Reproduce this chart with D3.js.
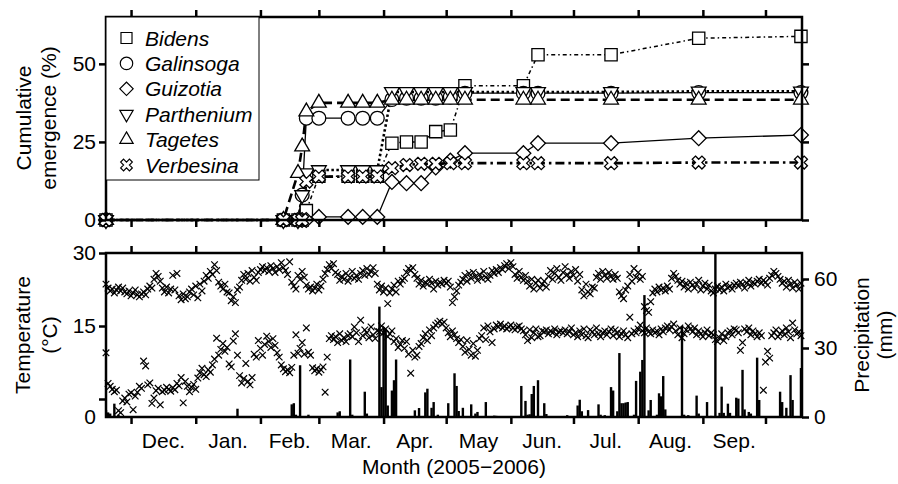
<!doctype html>
<html>
  <head>
    <meta charset="utf-8" />
    <title>Emergence and weather</title>
    <style>
      body {
        margin: 0;
        background: #fff;
      }
      svg {
        display: block;
      }
      text {
        font-family: "Liberation Sans", Arial, Helvetica, sans-serif;
        font-size: 21px;
        fill: #000;
      }
    </style>
  </head>
  <body>
    <svg id="chart" width="898" height="484"></svg>
    <script src="https://d3js.org/d3.v7.min.js"></script>
    <script>
      // ---- data ----
      const species = ["Bidens", "Galinsoga", "Guizotia", "Parthenium", "Tagetes", "Verbesina"];

      const obsDates = [
        "2005-11-19", "2006-02-12", "2006-02-19", "2006-02-21", "2006-02-23",
        "2006-03-01", "2006-03-15", "2006-03-22", "2006-03-29", "2006-04-05",
        "2006-04-12", "2006-04-19", "2006-04-26", "2006-05-03", "2006-05-10",
        "2006-06-07", "2006-06-14", "2006-07-19", "2006-08-30", "2006-10-18",
      ];
      const bidens = [0, 0, 0, 0, 3, 14, 14, 14, 14, 24.6, 25, 25, 28.3, 28.8, 43, 43, 52.9, 52.9, 58.2, 58.8];
      const galinsoga = [0, 0, 0, 8, 32.6, 32.6, 32.6, 32.6, 32.6, 38.6, 39, 39, 39, 39.4, 40.6, 40.6, 40.6, 40.6, 40.8, 40.8];
      const guizotia = [0, 0, 0, 0, 0, 1, 1, 1, 1, 12.2, 11.8, 11.8, 16.8, 19, 21.4, 21.4, 24.6, 24.6, 26.2, 27.2];
      const parthenium = [0, 0, 0, 8, 15, 16, 16, 16, 16, 41, 41, 41, 41, 41, 41, 41, 41, 41, 41.2, 41.2];
      const tagetes = [0, 0, 15, 23.5, 34.7, 37.5, 37.5, 37.5, 37.5, 38.5, 38.5, 38.5, 38.5, 38.5, 38.5, 38.5, 38.5, 38.5, 38.5, 38.5];
      const verbesina = [0, 0, 0, 0, 12.3, 13.9, 13.9, 13.9, 13.9, 16.6, 17.6, 18, 18, 18.2, 18.2, 18.2, 18.2, 18.2, 18.4, 18.4];

      // daily temperatures (deg C) from 19 Nov 2005
      const tempStart = "2005-11-19";
      const tmax = [
        23.6, 22.8, 22.2, 22.6, 21.8, 22.4, 23.0, 22.2, 22.8, 22.0,
        21.6, 22.2, 21.2, 21.8, 22.4, 21.4, 21.0, 21.6, 22.0, 21.4,
        22.6, 23.2, 22.8, 24.6, 25.8, 25.2, 24.2,
        22.8, 22.0, 23.0, 21.8, 22.6, 25.4, 22.4, 25.8,
        21.2, 20.4, 21.6, 20.6, 21.0, 22.0,
        22.6, 21.4, 23.2, 20.8, 23.6, 22.2,
        24.2, 25.4, 24.8, 26.2, 25.6, 27.6, 26.4, 24.0, 23.2,
        22.6, 23.6, 22.0, 21.8, 20.2, 21.0, 19.8, 22.4, 23.0,
        24.4, 25.6, 24.6, 25.8, 24.2, 26.4, 25.0, 24.4, 26.0,
        26.6, 27.2, 26.4, 27.0, 26.2, 27.4, 26.8, 26.0, 27.2, 26.6, 28.0, 27.0, 26.4,
        25.6, 28.2, 24.0, 23.2, 22.6, 25.4, 24.6, 26.2, 25.0,
        23.4, 22.6, 23.0, 22.2, 22.8, 23.6, 22.4, 23.2,
        24.6, 25.8, 26.6, 27.6, 26.8, 27.8, 26.0, 25.6,
        24.4, 25.2, 24.6, 25.8, 24.2, 25.0, 26.2, 24.8, 25.4, 24.6,
        25.8, 26.4, 25.4, 26.8, 25.6, 26.2, 27.0, 25.8,
        23.6, 22.4, 23.2, 22.0, 22.8, 19.6,
        21.8, 22.6, 23.4, 22.0, 24.2, 23.6, 24.4, 24.8,
        26.0, 26.8, 26.4, 27.0, 25.6, 24.8,
        23.6, 24.4, 23.2, 24.0, 23.6, 24.6, 23.8, 22.6, 24.2, 23.4, 24.0, 23.6, 24.4, 23.8, 24.2, 23.0,
        19.8, 21.0, 22.2, 23.4, 24.0,
        24.6, 25.4, 24.2, 25.8, 24.8, 26.0, 25.2, 24.4, 25.6, 24.8, 26.2, 25.0, 24.6, 25.4, 26.4, 25.8, 26.6, 26.0,
        27.0, 26.6, 27.4, 27.8, 26.8, 28.0, 27.2,
        25.6, 24.8, 26.2, 25.0, 24.4, 25.4, 24.2,
        23.2, 24.6, 22.6, 23.8, 24.4, 22.8, 23.6, 24.2, 23.0,
        25.2, 26.4, 24.6, 25.8, 26.8, 25.0, 24.4, 26.0, 27.2, 25.6, 24.8, 26.2, 25.4, 26.6, 24.2, 25.6,
        22.4, 21.2, 23.6, 22.0, 21.6, 23.0, 22.8,
        25.0, 25.8, 24.6, 26.2, 25.4, 24.8, 26.0, 25.2, 24.6, 25.6, 24.8,
        22.0, 21.2, 20.6, 22.4, 23.2,
        25.6, 24.2, 26.8, 25.0, 26.0, 24.6, 25.2,
        19.0, 18.2, 17.8, 20.0, 21.8,
        22.6, 22.0, 23.0, 22.4, 22.8, 22.2, 23.2, 22.6,
        24.8, 25.8, 25.2, 24.4,
        23.6, 24.2, 23.0, 23.8, 22.6, 24.0, 23.4, 22.8, 23.6, 24.4, 22.4, 23.2, 23.8, 22.6, 23.4, 22.2,
        21.8, 22.6, 23.2, 22.4, 23.0, 22.2, 23.6, 22.8, 23.2, 22.6, 23.4, 23.8,
        23.2, 24.0, 23.6, 22.8, 23.8, 24.4, 23.2, 24.0, 23.6, 24.2, 24.6, 23.8, 24.4, 24.0, 23.4, 24.8,
        25.4, 26.2, 25.8, 25.2,
        24.6, 23.8, 24.2, 23.0, 24.4, 23.6, 22.8, 24.0, 23.4, 22.6, 23.8,
      ];
      const tmin = [
        9.5, 3.2, 2.6, 2.0, 1.5, 1.8, -2.4, -2.8, -0.4, 0.2, -0.6, 1.0,
        1.3, -2.2, 0.6, 1.4, 2.6, 2.2, 7.8, 6.8, 2.9, 3.3, -0.9,
        0.2, 1.7, 2.2, -1.2, 1.5, 1.8, 2.4, 2.0, 1.6, 2.3, 1.9,
        3.2, 2.7, 4.4, -0.8, 3.6, 2.6, 1.5, 2.4, 3.0,
        2.0, 4.3, 5.4, 6.3, 5.0, 4.6, 6.0, 5.5, 7.0, 8.2, 12.5,
        9.0, 10.2, 11.4, 9.8, 10.6, 7.2, 6.6, 11.9, 13.4, 9.0,
        4.8, 3.3, 4.2, 7.3, 3.6, 2.9, 4.4, 9.2, 8.6, 12.0,
        10.4, 9.0, 11.2, 12.9, 11.8, 10.6, 12.4, 11.0, 9.5,
        8.6, 7.0, 6.2, 5.6, 6.0, 5.4, 6.5, 9.0,
        13.2, 9.4, 10.4, 11.6, 9.2, 14.6,
        9.6, 9.0, 6.4, 5.8, 6.2, 5.5, 6.0, 6.6,
        1.4, 8.6,
        12.4, 13.0, 12.2, 12.8, 11.6, 13.4, 12.0, 12.6, 11.8, 13.0,
        13.4, 12.8, 14.8, 13.6, 11.8, 16.2,
        13.0, 14.2, 13.6, 12.6, 14.8, 13.2, 12.4, 14.0, 13.8, 15.0,
        13.6, 14.4, 12.8, 13.4, 14.0, 11.8, 12.4, 10.6, 11.2, 12.0,
        10.4, 11.8, 9.2, 5.3, 10.0, 8.6, 9.0, 10.8,
        11.4, 12.6, 13.4, 12.0, 14.2, 13.0, 14.6, 15.2,
        15.6, 16.0, 15.4, 15.8, 14.6,
        13.6, 12.8, 14.0, 13.2, 12.4, 11.6, 12.2,
        10.8, 9.6, 12.0, 10.2, 9.0, 11.4, 8.8, 10.0, 12.4,
        13.0, 14.6, 12.2, 15.0, 13.8, 11.6, 14.4,
        15.2, 14.8, 15.4, 14.6, 15.0, 14.4, 14.8, 15.2, 14.6, 14.2, 14.8, 15.0, 14.4, 14.0,
        13.2, 12.0, 14.2, 12.6, 13.6, 14.4, 12.8, 13.0, 14.0,
        13.8, 14.2, 13.4, 14.0, 13.6, 14.4, 13.2, 13.8, 14.0, 13.6, 14.2, 13.4, 13.8, 14.6, 13.2,
        13.6, 12.8, 14.0, 13.2, 14.4, 13.0, 12.6, 14.2, 13.8, 13.2, 14.6, 13.4, 12.8, 13.6, 14.0, 13.2,
        13.8, 14.4, 13.0, 14.2, 13.6, 12.8, 13.4, 14.0, 13.2, 12.6,
        16.8,
        13.4, 14.0, 13.6, 14.4, 15.2, 14.0, 13.6,
        14.6, 13.8, 13.4, 14.2, 13.6, 14.0, 13.2, 14.4, 13.8, 14.6, 15.0, 14.2,
        14.8, 15.4, 14.0, 13.2, 14.6, 12.6, 13.4, 14.2, 15.0, 14.4, 13.8, 14.6, 13.2, 14.0, 13.4, 12.8, 13.6, 14.2, 13.0, 13.6,
        13.2, 12.2, 11.8, 12.6, 13.4, 12.0, 12.8, 13.6, 14.0, 13.2, 14.4,
        14.2, 13.6, 10.0, 11.6, 14.4,
        13.8, 14.6, 13.2, 14.0, 13.4, 12.8, 13.6, 13.0,
        1.8,
        7.6, 9.8, 8.4, 13.0,
        13.6, 14.2, 12.8, 13.4, 14.0, 13.2, 14.6, 13.8, 12.6, 15.6, 14.2, 13.4, 13.8, 13.0,
      ];

      // daily precipitation (mm), only rainy days
      const rainDates = [
        "2005-11-19", "2005-11-20", "2005-11-21", "2005-11-23", "2005-11-25", "2006-01-21",
        "2006-02-16", "2006-02-17", "2006-02-18", "2006-02-20", "2006-02-24",
        "2006-03-10", "2006-03-11", "2006-03-16", "2006-03-17", "2006-03-23", "2006-03-24",
        "2006-03-30", "2006-03-31", "2006-04-01", "2006-04-02", "2006-04-03", "2006-04-05",
        "2006-04-06", "2006-04-07", "2006-04-16", "2006-04-18", "2006-04-21", "2006-04-22",
        "2006-04-24", "2006-04-25", "2006-04-27", "2006-05-02", "2006-05-05", "2006-05-06",
        "2006-05-07", "2006-05-09", "2006-05-13", "2006-05-15", "2006-05-16", "2006-05-20",
        "2006-05-24", "2006-05-25", "2006-06-06", "2006-06-08", "2006-06-09", "2006-06-10",
        "2006-06-11", "2006-06-12", "2006-06-14", "2006-06-17", "2006-06-18", "2006-06-28",
        "2006-07-03", "2006-07-04", "2006-07-05", "2006-07-08", "2006-07-13", "2006-07-14",
        "2006-07-16", "2006-07-19", "2006-07-20", "2006-07-22", "2006-07-23", "2006-07-24",
        "2006-07-25", "2006-07-26", "2006-07-27", "2006-07-30", "2006-07-31", "2006-08-02",
        "2006-08-03", "2006-08-04", "2006-08-06", "2006-08-07", "2006-08-10", "2006-08-11",
        "2006-08-12", "2006-08-13", "2006-08-14", "2006-08-22", "2006-08-23", "2006-08-25",
        "2006-08-29", "2006-08-30", "2006-09-03", "2006-09-05", "2006-09-07", "2006-09-09",
        "2006-09-10", "2006-09-11", "2006-09-13", "2006-09-14", "2006-09-17", "2006-09-18",
        "2006-09-20", "2006-09-21", "2006-09-23", "2006-09-24", "2006-09-27", "2006-09-28",
        "2006-10-08", "2006-10-09", "2006-10-11", "2006-10-13", "2006-10-14", "2006-10-18",
      ];
      const rainMm = [
        3, 2, 1.5, 5.8, 1, 3.6,
        5.5, 6, 1, 22.5, 1,
        2, 2.5, 25, 1, 11, 1.5,
        48, 13, 39, 38, 5, 11.5,
        16, 25, 2.9, 3.9, 10.7, 12.3,
        4, 6.5, 1, 6, 19, 13.5,
        2.6, 4, 5.5, 1.5, 2.2, 6.5,
        0.6, 0.5, 13.5, 7, 1, 1.2,
        10, 13.5, 16, 6, 1.3, 0.8,
        5, 7.5, 2.5, 3, 5.5, 1,
        0.8, 13, 11.5, 2.5, 27.8, 6,
        6, 6.3, 6.5, 1, 15.7, 19.7,
        24.8, 53, 2.9, 7.4, 1, 10.3,
        9, 17.8, 3.3, 39.6, 1, 0.8,
        9.3, 1.5, 6.5, 0.5, 78, 1.8,
        13.2, 1.8, 5.8, 1.8, 8.4, 8,
        20.5, 3.3, 2.2, 1.5, 25.8, 7.4,
        11, 6.5, 4, 18.2, 7.4, 21.3,
      ];

      const monthLabels = ["Dec.", "Jan.", "Feb.", "Mar.", "Apr.", "May", "Jun.", "Jul.", "Aug.", "Sep."];
      const emergenceTicks = [0, 25, 50];
      const tempTicks = [0, 15, 30];
      const rainTicks = [0, 30, 60];

      // ---- layout ----
      const parse = d3.timeParse("%Y-%m-%d");
      const svg = d3.select("#chart");
      const left = 106, right = 802;
      const top1 = 17, bot1 = 220;
      const top2 = 253, bot2 = 417;
      const tick = 7;

      const x = d3
        .scaleTime()
        .domain([parse("2005-11-19"), new Date(2006, 9, 18, 12)])
        .range([left, right]);
      const yEm = d3.scaleLinear().domain([0, 65]).range([bot1, top1]);
      const yTemp = d3.scaleLinear().domain([-3.7, 30]).range([bot2, top2]);
      const yRain = d3.scaleLinear().domain([0, 71.3]).range([bot2, top2]);

      const monthStarts = d3.timeMonth.range(new Date(2005, 11, 1), new Date(2006, 9, 2));

      // styling of emergence series
      const series = [
        { name: "Bidens", values: bidens, shape: "square", width: 1.5, dash: "4,3,1.5,3" },
        { name: "Galinsoga", values: galinsoga, shape: "circle", width: 1.3, dash: null },
        { name: "Guizotia", values: guizotia, shape: "diamond", width: 1.3, dash: null },
        { name: "Parthenium", values: parthenium, shape: "tdown", width: 2.6, dash: "2.5,2.5" },
        { name: "Tagetes", values: tagetes, shape: "tup", width: 2.6, dash: "9,5" },
        { name: "Verbesina", values: verbesina, shape: "xcross", width: 2.6, dash: "9,4,2.5,4" },
      ];

      const shapes = {
        square: { path: d3.symbol(d3.symbolSquare, 150)(), rot: 0 },
        circle: { path: d3.symbol(d3.symbolCircle, 150)(), rot: 0 },
        diamond: { path: d3.symbol(d3.symbolSquare, 110)(), rot: 45 },
        tdown: { path: d3.symbol(d3.symbolTriangle, 95)(), rot: 180 },
        tup: { path: d3.symbol(d3.symbolTriangle, 95)(), rot: 0 },
        xcross: { path: d3.symbol(d3.symbolCross, 105)(), rot: 45 },
      };

      function axisStyle(g) {
        g.attr("font-size", null).attr("font-family", null);
        g.select(".domain").remove();
        g.selectAll(".tick line").attr("stroke", "#000").attr("stroke-width", 2.5);
      }

      function frame(y0, y1) {
        svg
          .append("rect")
          .attr("x", left)
          .attr("y", y0)
          .attr("width", right - left)
          .attr("height", y1 - y0)
          .attr("fill", "none")
          .attr("stroke", "#000")
          .attr("stroke-width", 2.5);
      }

      function monthAxes(y0, y1) {
        svg
          .append("g")
          .attr("transform", `translate(0,${y0})`)
          .call(d3.axisTop(x).tickValues(monthStarts).tickSize(tick).tickFormat(""))
          .call(axisStyle);
        svg
          .append("g")
          .attr("transform", `translate(0,${y1})`)
          .call(d3.axisBottom(x).tickValues(monthStarts).tickSize(tick).tickFormat(""))
          .call(axisStyle);
      }

      // ---- top panel: cumulative emergence ----
      function drawEmergence() {
        const dates = obsDates.map(parse);
        const lineGroup = svg.append("g");
        series.forEach((s) => {
          const line = d3
            .line()
            .x((d, i) => x(dates[i]))
            .y((d) => yEm(d));
          lineGroup
            .append("path")
            .datum(s.values)
            .attr("d", line)
            .attr("fill", "none")
            .attr("stroke", "#000")
            .attr("stroke-width", s.width)
            .attr("stroke-dasharray", s.dash);
        });

        const markGroup = svg.append("g");
        series.forEach((s) => {
          const sh = shapes[s.shape];
          markGroup
            .append("g")
            .selectAll("path")
            .data(s.values)
            .join("path")
            .attr("d", sh.path)
            .attr("transform", (d, i) => `translate(${x(dates[i])},${yEm(d)}) rotate(${sh.rot})`)
            .attr("fill", "#fff")
            .attr("stroke", "#000")
            .attr("stroke-width", 1.3);
        });

        frame(top1, bot1);
        monthAxes(top1, bot1);

        svg
          .append("g")
          .attr("transform", `translate(${left},0)`)
          .call(d3.axisLeft(yEm).tickValues(emergenceTicks).tickSize(tick).tickPadding(3))
          .call(axisStyle);
        svg
          .append("g")
          .attr("transform", `translate(${right},0)`)
          .call(d3.axisRight(yEm).tickValues(emergenceTicks).tickSize(tick).tickFormat(""))
          .call(axisStyle);

        // legend
        const lg = svg.append("g");
        lg.append("rect")
          .attr("x", left)
          .attr("y", top1)
          .attr("width", 153)
          .attr("height", 163)
          .attr("fill", "#fff")
          .attr("stroke", "#000")
          .attr("stroke-width", 1);
        series.forEach((s, i) => {
          const cy = 38 + i * 25.4;
          const sh = shapes[s.shape];
          lg.append("path")
            .attr("d", sh.path)
            .attr("transform", `translate(126.5,${cy}) rotate(${sh.rot}) scale(0.9)`)
            .attr("fill", "#fff")
            .attr("stroke", "#000")
            .attr("stroke-width", 1.3);
          lg.append("text")
            .attr("x", 145)
            .attr("y", cy + 7.5)
            .attr("font-style", "italic")
            .text(s.name);
        });

        const yl = svg.append("g").attr("text-anchor", "middle");
        yl.append("text").attr("transform", "translate(31,118) rotate(-90)").text("Cumulative");
        yl.append("text").attr("transform", "translate(56,118) rotate(-90)").text("emergence (%)");
      }

      // ---- bottom panel: temperature and precipitation ----
      function drawWeather() {
        const start = parse(tempStart);
        svg
          .append("clipPath")
          .attr("id", "clip2")
          .append("rect")
          .attr("x", left)
          .attr("y", top2)
          .attr("width", right - left)
          .attr("height", bot2 - top2);

        svg
          .append("g")
          .attr("clip-path", "url(#clip2)")
          .selectAll("rect")
          .data(rainMm)
          .join("rect")
          .attr("x", (d, i) => x(parse(rainDates[i])) - 1.2)
          .attr("y", (d) => yRain(d))
          .attr("width", 2.4)
          .attr("height", (d) => yRain(0) - yRain(d))
          .attr("fill", "#000");

        const cross = "M-3.3,-3.3L3.3,3.3M-3.3,3.3L3.3,-3.3";
        [tmax, tmin].forEach((arr) => {
          svg
            .append("g")
            .selectAll("path")
            .data(arr)
            .join("path")
            .attr("d", cross)
            .attr("transform", (d, i) => `translate(${x(d3.timeDay.offset(start, i))},${yTemp(d)})`)
            .attr("fill", "none")
            .attr("stroke", "#000")
            .attr("stroke-width", 1.2);
        });

        frame(top2, bot2);
        monthAxes(top2, bot2);

        const la = svg
          .append("g")
          .attr("transform", `translate(${left},0)`)
          .call(d3.axisLeft(yTemp).tickValues(tempTicks).tickSize(tick).tickPadding(3))
          .call(axisStyle);
        // the 0 label sits at the panel corner in the original
        la.selectAll(".tick text")
          .filter((d) => d === 0)
          .attr("y", yTemp(-3.7) - yTemp(0));

        svg
          .append("g")
          .attr("transform", `translate(${right},0)`)
          .call(d3.axisRight(yRain).tickValues(rainTicks).tickSize(tick).tickPadding(5))
          .call(axisStyle);

        // month names between month starts
        svg
          .append("g")
          .attr("text-anchor", "middle")
          .selectAll("text")
          .data(monthLabels)
          .join("text")
          .attr("x", (d, i) => (x(monthStarts[i]) + x(monthStarts[i + 1])) / 2)
          .attr("y", 448)
          .text((d) => d);

        svg
          .append("text")
          .attr("x", (left + right) / 2)
          .attr("y", 474)
          .attr("text-anchor", "middle")
          .text("Month (2005\u22122006)");

        const yl = svg.append("g").attr("text-anchor", "middle");
        yl.append("text").attr("transform", "translate(30,335) rotate(-90)").text("Temperature");
        yl.append("text").attr("transform", "translate(57,335) rotate(-90)").text("(\u00b0C)");
        yl.append("text").attr("transform", "translate(869,335) rotate(-90)").text("Precipitation");
        yl.append("text").attr("transform", "translate(892,335) rotate(-90)").text("(mm)");
      }

      drawEmergence();
      drawWeather();
    </script>
  </body>
</html>
